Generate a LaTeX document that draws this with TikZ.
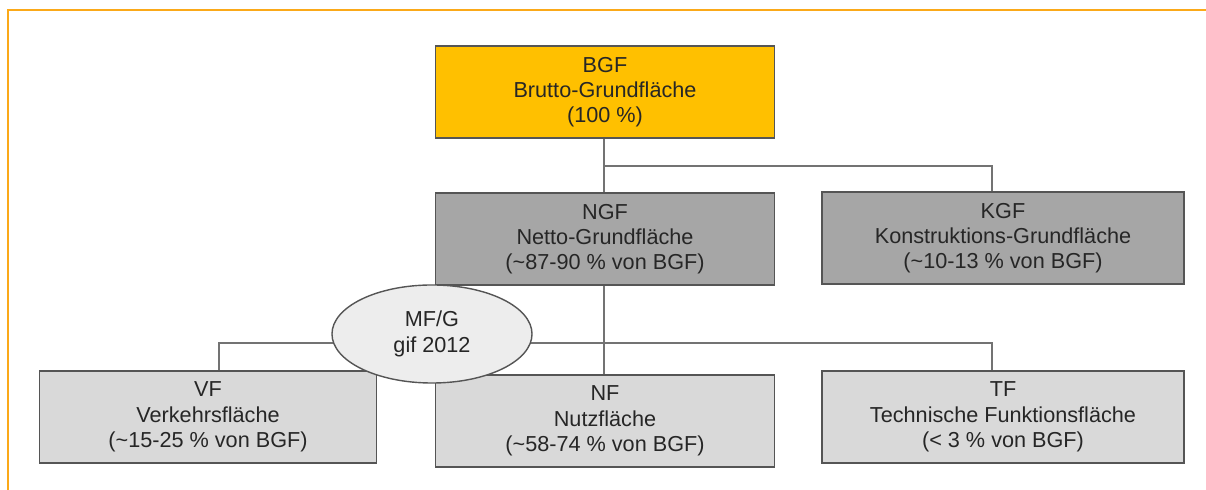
\documentclass[tikz,border=0pt]{standalone}
\usepackage{fontspec}
\setmainfont{Liberation Sans}
\usepackage{tikz}
\usetikzlibrary{shapes.geometric}

\definecolor{bgfgelb}{HTML}{FFC000}
\definecolor{dunkelgrau}{HTML}{A6A6A6}
\definecolor{hellgrau}{HTML}{D9D9D9}
\definecolor{ovalgrau}{HTML}{EDEDED}
\definecolor{randgrau}{HTML}{555555}
\definecolor{liniengrau}{HTML}{737373}
\definecolor{textgrau}{HTML}{262626}
\definecolor{rahmenorange}{HTML}{FBA919}

\begin{document}
\begin{tikzpicture}[x=0.025cm,y=-0.025cm,
  font=\fontsize{15.4}{18}\selectfont,text=textgrau]
  \tikzstyle{flaeche}=[draw=randgrau,line width=1.1pt,align=center,
    inner sep=0pt,minimum height=2.3cm]
  \tikzstyle{linie}=[draw=liniengrau,line width=1.1pt]

  \useasboundingbox (0,0) rectangle (1206,490);
  \draw[rahmenorange,line width=1pt] (8,490) -- (8,10) -- (1206,10);

  \node[flaeche,fill=bgfgelb,minimum width=8.475cm] (bgf) at (605,92)
    {BGF\\Brutto-Grundfläche\\(100 \%)};
  \node[flaeche,fill=dunkelgrau,minimum width=8.475cm] (ngf) at (605,239)
    {NGF\\Netto-Grundfläche\\(\textasciitilde 87-90 \% von BGF)};
  \node[flaeche,fill=dunkelgrau,minimum width=9.05cm] (kgf) at (1003,238)
    {KGF\\Konstruktions-Grundfläche\\(\textasciitilde 10-13 \% von BGF)};
  \node[flaeche,fill=hellgrau,minimum width=8.425cm] (vf) at (208,417)
    {VF\\Verkehrsfläche\\(\textasciitilde 15-25 \% von BGF)};
  \node[flaeche,fill=hellgrau,minimum width=8.475cm] (nf) at (605,421)
    {NF\\Nutzfläche\\(\textasciitilde 58-74 \% von BGF)};
  \node[flaeche,fill=hellgrau,minimum width=9.05cm] (tf) at (1003,417)
    {TF\\Technische Funktionsfläche\\(< 3 \% von BGF)};

  \coordinate (k1) at (604,166);
  \coordinate (k2) at (992,166);
  \coordinate (k3) at (604,343);
  \coordinate (v1) at (219,343);
  \coordinate (t1) at (992,343);

  \path[linie]
  (bgf.south -| k1) -- (ngf.north -| k1)
  (k1) -- (k2) -- (k2 |- kgf.north)
  (ngf.south -| k3) -- (nf.north -| k3)
  (v1 |- vf.north) -- (v1) -- (t1) -- (t1 |- tf.north)
  ;

  \node[ellipse,draw=randgrau,fill=ovalgrau,line width=1pt,inner sep=0pt,
    minimum width=5cm,minimum height=2.45cm,align=center] (mfg) at (432,334)
    {MF/G\\gif 2012};

\end{tikzpicture}
\end{document}
